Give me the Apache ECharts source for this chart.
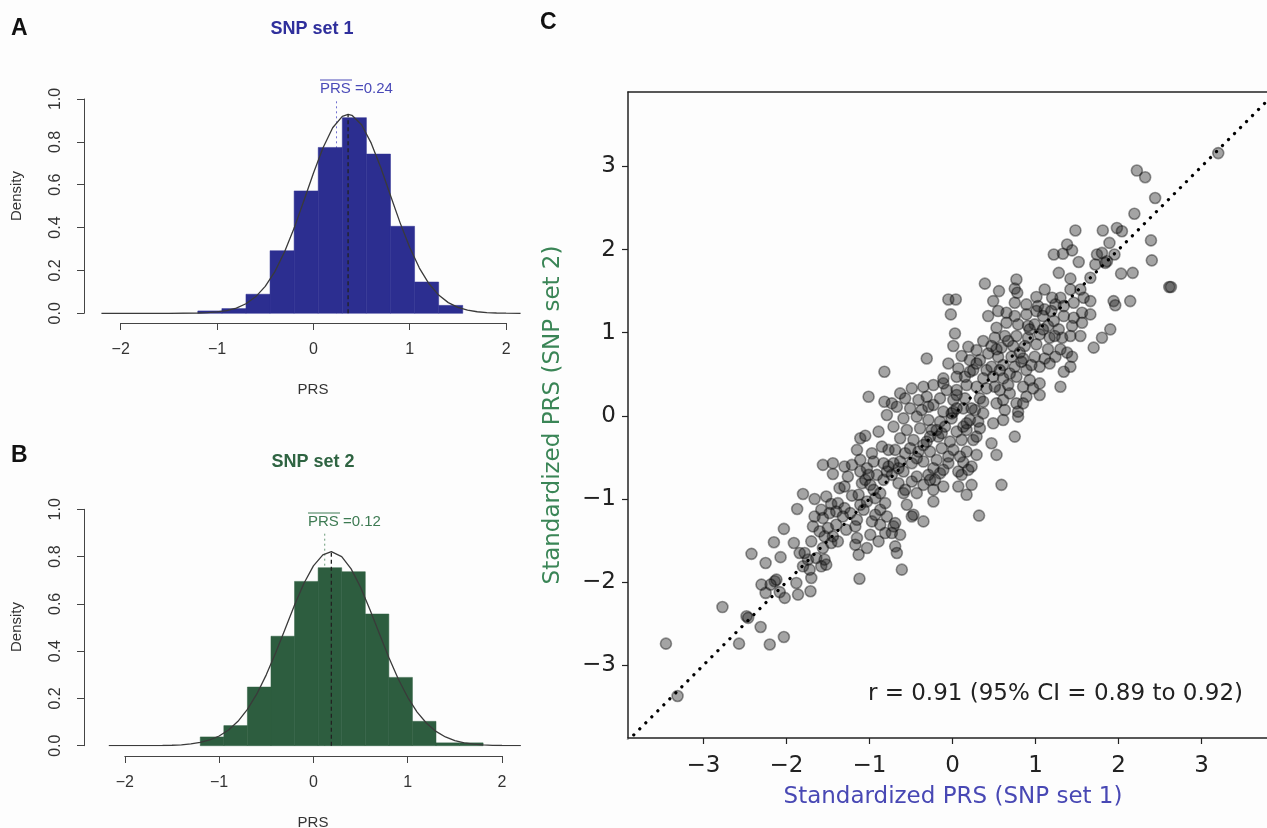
<!DOCTYPE html>
<html>
<head>
<meta charset="utf-8">
<script src="https://cdn.jsdelivr.net/npm/echarts@6/dist/echarts.min.js"></script>
<style>html,body{margin:0;padding:0;background:#fdfdfd;}#chart{width:1267px;height:828px;}</style>
</head>
<body>
<div id="chart"></div>
<script>
// ---------- Data ----------
const histA_edges = [-1.2,-0.95,-0.7,-0.45,-0.2,0.05,0.3,0.55,0.8,1.05,1.3,1.55];
const histA_density = [0.011,0.022,0.089,0.292,0.571,0.774,0.913,0.743,0.406,0.146,0.037];
const histB_edges = [-1.2,-0.95,-0.7,-0.45,-0.2,0.05,0.3,0.55,0.8,1.05,1.3,1.55,1.8];
const histB_density = [0.037,0.085,0.248,0.463,0.695,0.753,0.736,0.557,0.289,0.103,0.012,0.012];

const curveA_x = [-2.2,-1.5,-1.2,-1.1,-1.0,-0.9,-0.8,-0.7,-0.6,-0.5,-0.4,-0.3,-0.2,-0.1,0,0.1,0.2,0.3,0.36,0.4,0.5,0.6,0.7,0.8,0.9,1.0,1.1,1.2,1.3,1.4,1.5,1.6,1.7,1.8,1.9,2.0,2.15];
const curveA_y = [0,0.0001,0.0013,0.0029,0.0062,0.0127,0.0244,0.0445,0.0768,0.1256,0.1946,0.2857,0.3975,0.5237,0.6537,0.7729,0.8659,0.919,0.928,0.924,0.880,0.794,0.679,0.550,0.422,0.3066,0.2111,0.1377,0.0851,0.0498,0.0276,0.0145,0.0072,0.0034,0.0015,0.0006,0.0001];
const curveB_x = [-2.17,-1.6,-1.5,-1.4,-1.3,-1.2,-1.1,-1.0,-0.9,-0.8,-0.7,-0.6,-0.5,-0.4,-0.3,-0.2,-0.1,0,0.1,0.19,0.3,0.4,0.5,0.6,0.7,0.8,0.9,1.0,1.1,1.2,1.3,1.4,1.5,1.6,1.7,1.8,1.9,2.0,2.2];
const curveB_y = [0,0.0009,0.0019,0.0039,0.0075,0.0137,0.0242,0.041,0.0664,0.1031,0.1535,0.219,0.2997,0.3929,0.4938,0.595,0.687,0.7606,0.807,0.821,0.800,0.748,0.670,0.575,0.4734,0.3735,0.2824,0.2048,0.1423,0.0948,0.0605,0.037,0.0217,0.0122,0.0066,0.0034,0.0017,0.0008,0.0001];

const meanPRS_A = 0.24, fitPeakA = [0.36, 0.928], meanTopA = 1.0;
const meanPRS_B = 0.12, fitPeakB = [0.19, 0.821], meanTopB = 0.9;

const histTicks = [-2,-1,0,1,2];
const scatterTicks = [-3,-2,-1,0,1,2,3];
const diagLine = [[-3.91,-3.91],[3.9,3.9]];

const prsPairs = [
[-2.03,-1.36],[-2.15,-1.52],[-2.42,-1.66],[-2.25,-1.77],[-2.07,-1.70],[-2.14,-1.99],[-2.12,-1.97],[-2.30,-2.03],[-2.19,-2.03],[-2.25,-2.13],[-2.08,-2.12],[-2.02,-2.19],[-2.77,-2.30],[-2.48,-2.41],[-2.46,-2.43],[-2.31,-2.54],[-2.57,-2.74],[-2.20,-2.75],[-2.03,-2.66],[-3.45,-2.74],[-3.31,-3.37],
[-1.44,-0.70],[-1.26,-0.73],[-1.11,-0.67],[-1.80,-0.94],[-1.87,-1.12],[-1.66,-1.00],[-1.52,-0.97],[-1.46,-1.06],[-1.38,-1.05],[-1.36,-0.87],[-1.30,-0.85],[-1.21,-0.96],[-1.09,-0.81],[-1.05,-0.77],[-0.99,-0.83],[-0.91,-0.71],[-0.83,-0.77],[-0.79,-0.67],
[-1.66,-1.21],[-1.58,-1.13],[-1.56,-1.23],[-1.48,-1.17],[-1.40,-1.15],[-1.30,-1.11],[-1.23,-1.17],[-1.15,-1.25],[-1.11,-1.07],[-1.03,-1.03],[-0.93,-0.99],[-0.87,-1.13],[-0.81,-1.05],[-0.79,-1.21],
[-1.68,-1.33],[-1.60,-1.39],[-1.50,-1.35],[-1.40,-1.31],[-1.28,-1.37],[-1.17,-1.33],[-0.97,-1.27],[-0.87,-1.31],[-0.99,-1.43],[-0.89,-1.51],[-0.81,-1.41],
[-1.91,-1.53],[-1.70,-1.51],[-1.56,-1.59],[-1.44,-1.45],[-1.46,-1.53],[-1.15,-1.47],[-1.17,-1.55],[-1.03,-1.59],[-1.13,-1.67],
[-1.84,-1.65],[-1.74,-1.73],[-1.64,-1.71],[-1.54,-1.73],[-1.58,-1.81],[-1.80,-1.81],[-1.72,-1.85],[-1.88,-2.01],[-1.70,-1.95],[-1.52,-1.79],[-1.86,-2.15],[-1.71,-2.11],[-1.12,-1.96],
[-1.01,-0.71],[-0.95,-0.89],[-0.87,-0.93],[-1.13,-0.95],[-1.07,-1.13],[-0.93,-1.19],[-1.32,-1.21],[-1.54,-1.45],[-1.38,-1.51],[-1.78,-1.65],
[-0.82,0.53],[-1.01,0.23],[-0.82,0.17],[-0.79,0.01],[-0.89,-0.19],[-1.11,-0.27],[-1.05,-0.24],[-1.15,-0.41],[-0.97,-0.45],[-0.85,-0.37],[-0.77,-0.41],[-1.56,-0.59],[-1.44,-0.57],[-1.30,-0.61],[-1.21,-0.59],[-1.11,-0.53],[-0.95,-0.55],[-0.83,-0.57],[-1.03,-0.63],[-0.77,-0.61],
[-0.63,0.27],[-0.49,0.33],[-0.35,0.35],[-0.23,0.37],[-0.11,0.39],[0.05,0.31],[0.17,0.37],[0.29,0.35],[0.41,0.33],[-0.31,0.23],[-0.15,0.21],[0.01,0.19],[0.15,0.21],[0.33,0.21],
[-0.73,0.15],[-0.67,0.11],[-0.51,0.09],[-0.37,0.07],[-0.23,0.13],[-0.11,0.05],[0.01,0.05],[0.13,0.09],[0.27,0.07],[0.37,0.03],
[-0.59,-0.03],[-0.43,-0.01],[-0.29,-0.05],[-0.15,-0.07],[-0.01,-0.03],[0.21,-0.05],[0.31,-0.07],
[-0.71,-0.13],[-0.55,-0.17],[-0.39,-0.15],[-0.25,-0.17],[-0.09,-0.13],[0.05,-0.19],[0.17,-0.17],[0.33,-0.15],
[-0.63,-0.27],[-0.47,-0.29],[-0.31,-0.31],[-0.17,-0.25],[-0.03,-0.31],[0.11,-0.29],[0.25,-0.29],
[-0.69,-0.41],[-0.57,-0.45],[-0.41,-0.43],[-0.27,-0.43],[-0.13,-0.39],[0.01,-0.41],[0.17,-0.43],[0.29,-0.47],
[-0.63,-0.55],[-0.49,-0.57],[-0.35,-0.55],[-0.19,-0.53],[-0.05,-0.57],[0.13,-0.56],[0.23,-0.61],
[-0.73,-0.71],[-0.59,-0.67],[-0.43,-0.73],[-0.29,-0.71],[-0.15,-0.69],[0.07,-0.67],[0.11,-0.71],[0.19,-0.65],
[-0.65,-0.81],[-0.49,-0.79],[-0.35,-0.83],[-0.21,-0.77],[-0.11,-0.85],[0.07,-0.85],[0.23,-0.83],
[-0.59,-0.93],[-0.43,-0.93],[-0.23,-0.89],[0.17,-0.95],[-0.55,-1.07],[-0.47,-1.19],[-0.23,-1.03],[-0.35,-1.27],[0.32,-1.20],[-0.71,-1.33],[-0.63,-1.43],[-0.69,-1.57],[-0.67,-1.65],[-0.61,-1.85],
[-0.01,0.03],[0.05,0.09],[0.13,-0.13],[0.17,-0.09],[-0.19,-0.17],[-0.13,-0.21],[-0.27,-0.25],[-0.35,-0.35],[-0.51,-0.39],[-0.43,-0.51],[-0.23,-0.63],[-0.11,-0.65],[-0.27,-0.77],[-0.57,-0.89],[-0.49,-1.21],[-0.69,-1.29],[-0.73,-1.41],[-0.65,-0.63],[-0.71,-0.57],[-0.05,-0.49],[0.09,-0.49],[0.29,-0.25],[0.37,0.17],[0.23,0.09],[0.05,0.25],[-0.07,0.31],[-0.29,0.11],[-0.57,0.21],[-0.41,0.19],
[0.39,1.59],[-0.05,1.40],[0.04,1.40],[-0.02,1.22],[0.03,0.99],[0.01,0.84],[-0.31,0.69],[-0.05,0.63],[0.07,0.57],[0.11,0.72],[0.19,0.83],[0.29,0.79],[0.37,0.90],[0.21,0.67],[0.33,0.67],[0.43,0.75],[-0.11,0.45],[0.05,0.47],[0.21,0.53],[0.41,0.55],[0.43,1.20],
[0.25,0.55],[0.15,0.47],[0.37,0.45],[0.29,0.63],
[1.48,2.23],[1.38,2.06],[1.44,1.99],[1.22,1.94],[1.33,1.95],[1.52,1.85],[1.28,1.72],[1.42,1.65],[1.74,1.94],[1.72,1.82],[1.66,1.66],[1.54,1.52],[1.42,1.52],[1.30,1.42],[1.20,1.42],[1.11,1.52],[1.01,1.43],[1.03,1.32],[0.77,1.64],[0.75,1.53],[0.78,1.48],[0.56,1.50],[0.49,1.38],[0.89,1.34],[1.01,1.26],[1.11,1.28],[1.24,1.34],[1.34,1.32],[1.46,1.36],[1.58,1.42],[1.66,1.38],[1.56,1.24],[1.46,1.18],[1.66,1.22],[0.75,1.36],[0.65,1.24],[0.55,1.26],[0.75,1.20],[0.89,1.22],[1.09,1.20],[1.22,1.14],[1.34,1.20],[1.44,1.08],[1.56,1.12],[0.53,1.06],[0.65,1.12],[0.79,1.10],[0.91,1.08],[0.99,1.10],[1.15,1.08],[1.28,1.04],[1.42,0.96],[1.54,0.96],[0.77,0.96],[0.63,0.96],[0.51,0.94],[0.91,0.94],[1.05,0.98],[1.17,0.94],[1.32,0.94],[0.47,0.84],[0.59,0.82],[0.73,0.84],[0.87,0.84],[1.01,0.86],[1.15,0.80],[1.30,0.80],[1.38,0.76],[1.44,0.71],[0.71,0.71],[0.55,0.71],[0.85,0.69],[0.99,0.71],[1.11,0.69],[1.24,0.71],[1.42,0.59],[1.70,0.82],[0.47,0.59],[0.61,0.61],[0.75,0.59],[0.89,0.55],[1.05,0.59],[1.17,0.63],[1.34,0.53],[1.30,0.35],[0.49,0.47],[0.61,0.45],[0.77,0.47],[0.93,0.43],[1.05,0.39],[0.85,0.35],[1.05,0.25],[0.57,0.31],[0.69,0.27],[0.89,0.23],[0.53,0.15],[0.63,0.07],[0.77,0.15],[0.49,-0.09],[0.61,-0.05],[0.79,0.05],[0.79,-0.01],[0.75,-0.25],[0.47,-0.33],[0.53,-0.47],[0.59,-0.83],
[0.53,0.80],[0.67,0.90],[0.81,0.76],[0.57,0.55],[0.69,0.51],[0.83,0.65],[0.95,0.61],[0.51,0.35],[0.67,0.37],[0.97,0.33],[0.61,0.19],[0.85,0.15],[0.93,1.04],[1.09,1.04],[1.23,0.96],[1.19,1.26],
[3.20,3.16],[2.22,2.95],[2.32,2.87],[2.44,2.62],[2.19,2.43],[1.81,2.23],[1.98,2.26],[2.04,2.22],[2.39,2.11],[1.89,2.08],[1.80,1.96],[1.95,1.94],[1.84,1.84],[1.86,1.86],[2.40,1.87],[2.03,1.71],[2.17,1.72],[2.61,1.55],[2.63,1.55],[2.14,1.38],[1.94,1.38],[1.96,1.33],[1.90,1.04],[1.80,0.94]
];

// ---------- Styles ----------
const BLUE_BAR = '#2c2e90', BLUE_TXT = '#2f2f9c', BLUE_ANN = '#4a4ab8';
const GREEN_BAR = '#2d5d3f', GREEN_TXT = '#2f6442', GREEN_ANN = '#3d7a52';
const RFONT = 'Liberation Sans, Arial, Helvetica, sans-serif';
const PYFONT = 'DejaVu Sans, sans-serif';
const minusFmt = v => (v < 0 ? '\u2212' + Math.abs(v) : String(v));

function binData(edges, dens) {
  return dens.map((d, i) => [edges[i], edges[i + 1], d]);
}
function zip(xs, ys) { return xs.map((x, i) => [x, ys[i]]); }

function histSeries(xi, yi, edges, dens, color) {
  return {
    type: 'custom', xAxisIndex: xi, yAxisIndex: yi, z: 3,
    data: binData(edges, dens),
    renderItem: function (params, api) {
      const p0 = api.coord([api.value(0), 0]);
      const p1 = api.coord([api.value(1), api.value(2)]);
      return { type: 'rect', shape: { x: p0[0], y: p1[1], width: p1[0] - p0[0], height: p0[1] - p1[1] },
               style: { fill: color, stroke: color, lineWidth: 0.5 } };
    }
  };
}
function lineSeries(xi, yi, data, style, z) {
  return { type: 'line', xAxisIndex: xi, yAxisIndex: yi, data: data, symbol: 'none', z: z,
           lineStyle: style, silent: true, animation: false };
}

const chart = echarts.init(document.getElementById('chart'), null, { renderer: 'canvas' });

const hiddenAxis = (g, min, max) => ({ type: 'value', gridIndex: g, min: min, max: max, show: false });
const rXAxis = (g) => ({
  type: 'value', gridIndex: g, min: -2, max: 2, interval: 1, position: 'bottom',
  axisLine: { show: true, onZero: false, lineStyle: { color: '#444', width: 1 } },
  axisTick: { show: true, inside: false, length: 7, lineStyle: { color: '#444' } },
  axisLabel: { margin: 19, fontFamily: RFONT, fontSize: 16, color: '#333', formatter: minusFmt },
  splitLine: { show: false }
});
const rYAxis = (g) => ({
  type: 'value', gridIndex: g, min: 0, max: 1, interval: 0.2,
  axisLine: { show: true, onZero: false, lineStyle: { color: '#444', width: 1 } },
  axisTick: { show: true, inside: false, length: 7, lineStyle: { color: '#444' } },
  axisLabel: { margin: 20, rotate: 90, fontFamily: RFONT, fontSize: 16, color: '#333', formatter: v => v.toFixed(1) },
  splitLine: { show: false }
});

const option = {
  animation: false,
  backgroundColor: '#fdfdfd',
  grid: [
    { left: 84, top: 99, width: 446, height: 214.3 },
    { left: 120.7, top: 322, width: 385.4, height: 1 },
    { left: 84, top: 509.3, width: 446, height: 236.4 },
    { left: 124.8, top: 755, width: 377.2, height: 1 },
    { left: 628, top: 92, width: 639, height: 646 }
  ],
  xAxis: [
    hiddenAxis(0, -2.381, 2.248),
    rXAxis(1),
    hiddenAxis(2, -2.433, 2.297),
    rXAxis(3),
    {
      type: 'value', gridIndex: 4, min: -3.907, max: 3.787, position: 'bottom',
      axisLine: { show: true, onZero: false, lineStyle: { color: '#222', width: 1.5 } },
      axisTick: { show: true, inside: false, length: 6, customValues: scatterTicks, lineStyle: { color: '#222', width: 1.2 } },
      axisLabel: { margin: 17, fontFamily: PYFONT, fontSize: 23, color: '#222', customValues: scatterTicks, formatter: minusFmt },
      splitLine: { show: false }
    },
    {
      type: 'value', gridIndex: 4, min: -3.907, max: 3.787, position: 'top',
      axisLine: { show: true, onZero: false, lineStyle: { color: '#222', width: 1.5 } },
      axisTick: { show: false }, axisLabel: { show: false }, splitLine: { show: false }
    }
  ],
  yAxis: [
    rYAxis(0),
    hiddenAxis(1, 0, 1),
    rYAxis(2),
    hiddenAxis(3, 0, 1),
    {
      type: 'value', gridIndex: 4, min: -3.875, max: 3.895,
      axisLine: { show: true, onZero: false, lineStyle: { color: '#222', width: 1.5 } },
      axisTick: { show: true, inside: false, length: 6, customValues: scatterTicks, lineStyle: { color: '#222', width: 1.2 } },
      axisLabel: { margin: 12, fontFamily: PYFONT, fontSize: 23, color: '#222', customValues: scatterTicks, formatter: minusFmt },
      splitLine: { show: false }
    }
  ],
  series: [
    // Panel A
    lineSeries(0, 0, [[meanPRS_A, 0], [meanPRS_A, meanTopA]], { color: '#6f6fd0', width: 1, type: [2, 3] }, 2),
    histSeries(0, 0, histA_edges, histA_density, BLUE_BAR),
    lineSeries(0, 0, zip(curveA_x, curveA_y), { color: '#3a3a3a', width: 1.3 }, 5),
    lineSeries(0, 0, [[fitPeakA[0], 0], fitPeakA], { color: '#222', width: 1.3, type: [4, 3] }, 6),
    // Panel B
    lineSeries(2, 2, [[meanPRS_B, 0], [meanPRS_B, meanTopB]], { color: '#6a9a78', width: 1, type: [2, 3] }, 2),
    histSeries(2, 2, histB_edges, histB_density, GREEN_BAR),
    lineSeries(2, 2, zip(curveB_x, curveB_y), { color: '#3a3a3a', width: 1.3 }, 5),
    lineSeries(2, 2, [[fitPeakB[0], 0], fitPeakB], { color: '#222', width: 1.3, type: [4, 3] }, 6),
    // Panel C
    {
      type: 'scatter', xAxisIndex: 4, yAxisIndex: 4, data: prsPairs, symbol: 'circle', symbolSize: 11, z: 3,
      itemStyle: { color: 'rgba(30,30,30,0.5)', borderColor: 'rgba(0,0,0,0.5)', borderWidth: 1.6 },
      silent: true
    },
    lineSeries(4, 4, diagLine, { color: '#000', width: 3.2, type: [0.1, 8.4], cap: 'round' }, 6)
  ],
  graphic: [
    { type: 'text', left: 11, top: 17, style: { text: 'A', font: 'bold 23px ' + RFONT, fill: '#111' } },
    { type: 'text', left: 11, top: 444, style: { text: 'B', font: 'bold 23px ' + RFONT, fill: '#111' } },
    { type: 'text', left: 540, top: 11, style: { text: 'C', font: 'bold 23px ' + RFONT, fill: '#111' } },
    { type: 'text', x: 312, y: 29, style: { text: 'SNP set 1', font: 'bold 18px ' + RFONT, fill: BLUE_TXT, align: 'center', verticalAlign: 'middle' } },
    { type: 'text', x: 313, y: 462, style: { text: 'SNP set 2', font: 'bold 18px ' + RFONT, fill: GREEN_TXT, align: 'center', verticalAlign: 'middle' } },
    // mean annotations with overline
    { type: 'text', x: 320, y: 89, style: { text: 'PRS', font: '15px ' + RFONT, fill: BLUE_ANN, align: 'left', verticalAlign: 'middle' } },
    { type: 'line', shape: { x1: 320, y1: 80, x2: 352, y2: 80 }, style: { stroke: BLUE_ANN, lineWidth: 1 } },
    { type: 'text', x: 355, y: 89, style: { text: '=0.24', font: '15px ' + RFONT, fill: BLUE_ANN, align: 'left', verticalAlign: 'middle' } },
    { type: 'text', x: 308, y: 522, style: { text: 'PRS', font: '15px ' + RFONT, fill: GREEN_ANN, align: 'left', verticalAlign: 'middle' } },
    { type: 'line', shape: { x1: 308, y1: 513, x2: 340, y2: 513 }, style: { stroke: GREEN_ANN, lineWidth: 1 } },
    { type: 'text', x: 343, y: 522, style: { text: '=0.12', font: '15px ' + RFONT, fill: GREEN_ANN, align: 'left', verticalAlign: 'middle' } },
    // axis titles, R panels
    { type: 'text', x: 17, y: 196, rotation: Math.PI / 2, style: { text: 'Density', font: '15px ' + RFONT, fill: '#333', align: 'center', verticalAlign: 'middle' } },
    { type: 'text', x: 17, y: 627, rotation: Math.PI / 2, style: { text: 'Density', font: '15px ' + RFONT, fill: '#333', align: 'center', verticalAlign: 'middle' } },
    { type: 'text', x: 313, y: 390, style: { text: 'PRS', font: '15px ' + RFONT, fill: '#333', align: 'center', verticalAlign: 'middle' } },
    { type: 'text', x: 313, y: 823, style: { text: 'PRS', font: '15px ' + RFONT, fill: '#333', align: 'center', verticalAlign: 'middle' } },
    // scatter titles
    { type: 'text', x: 553, y: 415, rotation: Math.PI / 2, style: { text: 'Standardized PRS (SNP set 2)', font: '23px ' + PYFONT, fill: '#3a8556', align: 'center', verticalAlign: 'middle' } },
    { type: 'text', x: 953, y: 797, style: { text: 'Standardized PRS (SNP set 1)', font: '23px ' + PYFONT, fill: '#4848b4', align: 'center', verticalAlign: 'middle' } },
    { type: 'text', x: 1243, y: 694, style: { text: 'r = 0.91 (95% CI = 0.89 to 0.92)', font: '23px ' + PYFONT, fill: '#222', align: 'right', verticalAlign: 'middle' } }
  ]
};
chart.setOption(option);
</script>
</body>
</html>
